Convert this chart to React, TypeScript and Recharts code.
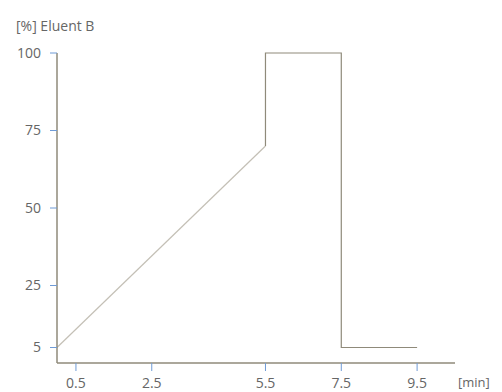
import React from "react";
import { LineChart, Line, XAxis, YAxis, Label } from "recharts";

// Gradient program: time [min] vs eluent B [%]
// Linear ramp segment
const rampTime = [0, 5.5];
const rampB = [5, 70];
// Step / hold / re-equilibration segment
const stepTime = [5.5, 5.5, 7.5, 7.5, 9.5];
const stepB = [70, 100, 100, 5, 5];
const xTicks = [0.5, 2.5, 5.5, 7.5, 9.5];
const yTicks = [5, 25, 50, 75, 100];

const rampData = rampTime.map((t, i) => ({ t, b: rampB[i] }));
const stepData = stepTime.map((t, i) => ({ t, b: stepB[i] }));

const AXIS = "#8f8a7a";
const RAMP = "#c4c0b6";
const TICK = "#6f9bd6";
const TEXT = "#666666";
const FONT = "'Open Sans', sans-serif";

export default function App() {
  return (
    <div style={{ position: "absolute", left: 0, top: 0, background: "#fff" }}>
      <LineChart
        width={502}
        height={392}
        margin={{ top: 53, right: 47, bottom: 0, left: 0 }}
      >
        <XAxis
          dataKey="t"
          type="number"
          domain={[0, 10.5]}
          ticks={xTicks}
          height={29}
          axisLine={{ stroke: AXIS, strokeWidth: 1.5 }}
          tickLine={{ stroke: TICK }}
          tickSize={8}
          tickMargin={7}
          tick={{ fill: TEXT, fontSize: 14, fontFamily: FONT }}
          tickFormatter={(v: number) => v.toFixed(1)}
        >
          <Label
            content={() => (
              <text x={458} y={387} fill={TEXT} fontSize={13} fontFamily={FONT}>
                [min]
              </text>
            )}
          />
        </XAxis>
        <YAxis
          dataKey="b"
          type="number"
          domain={[0, 100]}
          ticks={yTicks}
          width={57}
          axisLine={{ stroke: AXIS, strokeWidth: 1.5 }}
          tickLine={{ stroke: TICK }}
          tickSize={7}
          tickMargin={9}
          tick={{ fill: TEXT, fontSize: 14, fontFamily: FONT }}
        >
          <Label
            content={() => (
              <text x={16} y={31} fill={TEXT} fontSize={14} fontFamily={FONT}>
                [%] Eluent B
              </text>
            )}
          />
        </YAxis>
        <Line
          data={rampData}
          type="linear"
          dataKey="b"
          stroke={RAMP}
          strokeWidth={1.2}
          dot={false}
          isAnimationActive={false}
        />
        <Line
          data={stepData}
          type="linear"
          dataKey="b"
          stroke={AXIS}
          strokeWidth={1.2}
          dot={false}
          isAnimationActive={false}
        />
      </LineChart>
    </div>
  );
}
